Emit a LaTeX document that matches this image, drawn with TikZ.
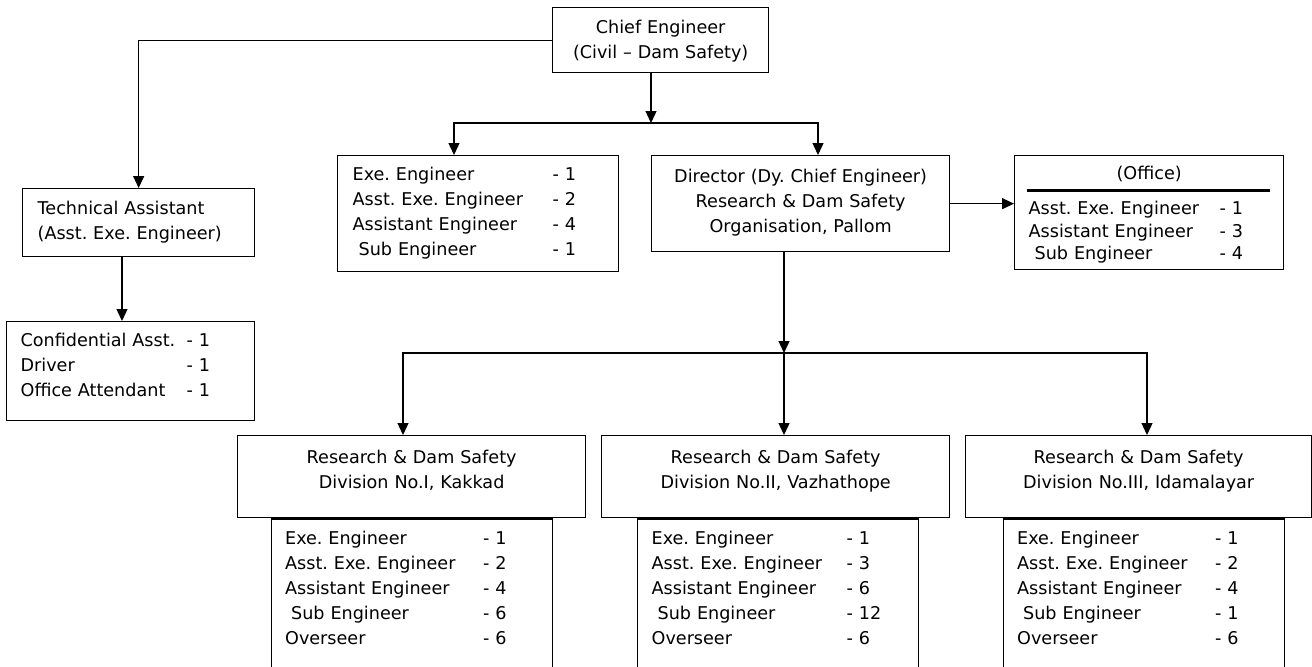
\documentclass[tikz,border=0pt]{standalone}
\usepackage{fontspec}
\setmainfont{DejaVu Sans}
\usetikzlibrary{positioning,arrows.meta}
\frenchspacing

\begin{document}
\begin{tikzpicture}
	[x=0.5pt,y=-0.5pt,line width=0.65pt,
	>={Triangle[length=6pt,width=5.5pt]},
	every node/.style={font=\fontsize{8.8}{12.4}\selectfont,inner ysep=0pt},
	unitbox/.style={draw,anchor=north west},
	headbox/.style={unitbox,align=center,inner xsep=0pt},
	staffbox/.style={unitbox,align=left,inner xsep=7pt},
	divbox/.style={headbox,text width=174pt,text height=14pt,text depth=27pt},
	listbox/.style={staffbox,text width=126.5pt,text height=13pt,text depth=70pt}]
	\path[use as bounding box,clip] (0,0) rectangle (1312,666);
	\node[headbox,text width=108pt,text height=13pt,text depth=19.5pt] (chief) at (552,7)
		{Chief Engineer\\(Civil – Dam Safety)};
	\node[staffbox,inner xsep=7.5pt,text width=101pt,text height=13pt,text depth=21pt] (tech) at (22,188)
		{Technical Assistant\\(Asst. Exe. Engineer)};
	\node[staffbox,text width=110pt,text height=12.5pt,text depth=37pt] (conf) at (6,321)
		{\makebox[83pt][l]{Confidential Asst.}- 1\\
		\makebox[83pt][l]{Driver}- 1\\
		\makebox[83pt][l]{Office Attendant}- 1};
	\node[staffbox,inner xsep=7.5pt,text width=125.5pt,text height=12.5pt,text depth=45.5pt] (exe) at (337,155)
		{\makebox[100pt][l]{Exe. Engineer}- 1\\
		\makebox[100pt][l]{Asst. Exe. Engineer}- 2\\
		\makebox[100pt][l]{Assistant Engineer}- 4\\
		\makebox[100pt][l]{\hspace*{3pt}Sub Engineer}- 1};
	\node[headbox,text width=149pt,text height=13.5pt,text depth=34.5pt] (dir) at (651,155)
		{Director (Dy. Chief Engineer)\\Research \& Dam Safety\\Organisation, Pallom};
	\node[staffbox,text width=120.5pt,text height=12pt,text depth=45pt] (office) at (1014,155)
		{\makebox[120.5pt]{(Office)}\\[-6pt]
		\hspace*{-1pt}\rule{121.5pt}{1.5pt}\\[-1.5pt]
		\makebox[95.5pt][l]{Asst. Exe. Engineer}- 1\\[-1pt]
		\makebox[95.5pt][l]{Assistant Engineer}- 3\\[-1pt]
		\makebox[95.5pt][l]{\hspace*{3pt}Sub Engineer}- 4};
	\node[divbox] (div1) at (237,435) {Research \& Dam Safety\\Division No.I, Kakkad};
	\node[divbox] (div2) at (601,435) {Research \& Dam Safety\\Division No.II, Vazhathope};
	\node[divbox,text width=173pt] (div3) at (965,435) {Research \& Dam Safety\\Division No.III, Idamalayar};
	\node[listbox,below=0pt of div1] (list1)
		{\makebox[99pt][l]{Exe. Engineer}- 1\\
		\makebox[99pt][l]{Asst. Exe. Engineer}- 2\\
		\makebox[99pt][l]{Assistant Engineer}- 4\\
		\makebox[99pt][l]{\hspace*{3pt}Sub Engineer}- 6\\
		\makebox[99pt][l]{Overseer}- 6};
	\node[listbox,below=0pt of div2,xshift=1.25pt] (list2)
		{\makebox[97.5pt][l]{Exe. Engineer}- 1\\
		\makebox[97.5pt][l]{Asst. Exe. Engineer}- 3\\
		\makebox[97.5pt][l]{Assistant Engineer}- 6\\
		\makebox[97.5pt][l]{\hspace*{3pt}Sub Engineer}- 12\\
		\makebox[97.5pt][l]{Overseer}- 6};
	\node[listbox,below=0pt of div3,xshift=2.5pt] (list3)
		{\makebox[99pt][l]{Exe. Engineer}- 1\\
		\makebox[99pt][l]{Asst. Exe. Engineer}- 2\\
		\makebox[99pt][l]{Assistant Engineer}- 4\\
		\makebox[99pt][l]{\hspace*{3pt}Sub Engineer}- 1\\
		\makebox[99pt][l]{Overseer}- 6};
	\coordinate (chiefdrop) at (651,123);
	\coordinate (exedrop) at (454,123);
	\coordinate (dirdrop) at (818,123);
	\coordinate (techdrop) at (122,300);
	\coordinate (orgdrop) at (784,353);
	\coordinate (div1drop) at (403,353);
	\coordinate (div3drop) at (1147,353);
	\draw[->] (chief.west) -| (tech.north);
	\draw[->] (chief.south -| chiefdrop) -- (chiefdrop);
	\draw[<->] (exe.north -| exedrop) -- (exedrop) -- (dirdrop) -- (dir.north -| dirdrop);
	\draw[->] (tech.south -| techdrop) -- (conf.north -| techdrop);
	\draw[->] (dir.east) -- (dir.east -| office.west);
	\draw[->] (dir.south -| orgdrop) -- (orgdrop);
	\draw[<->] (div1.north -| div1drop) -- (div1drop) -- (div3drop) -- (div3.north -| div3drop);
	\draw[->] (orgdrop) -- (div2.north -| orgdrop);
\end{tikzpicture}
\end{document}
